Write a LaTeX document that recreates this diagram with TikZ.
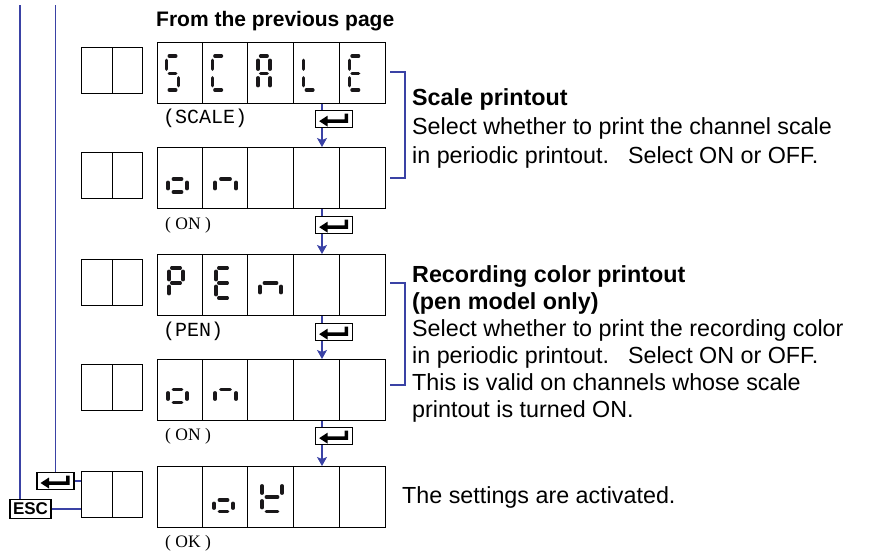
\documentclass[tikz,border=0pt]{standalone}
\usepackage{fontspec}
\setmainfont{Liberation Sans}
\newfontfamily\monofam{Liberation Mono}
\newfontfamily\seriffam{Liberation Serif}
\usetikzlibrary{arrows.meta}
\definecolor{flowblue}{RGB}{58,66,165}
\definecolor{segink}{RGB}{25,23,25}
\tikzset{
  segline/.style={draw=segink, line width=3.4pt, line cap=round},
  boxline/.style={draw=black, line width=1pt},
  dispbox/.style={boxline, minimum width=228.5pt, minimum height=61pt, inner sep=0pt, anchor=north west},
  smallbox/.style={boxline, minimum width=61pt, minimum height=46pt, inner sep=0pt, anchor=north west},
  flowline/.style={draw=flowblue, line width=1.2pt},
  flowarrow/.style={flowline, -{Stealth[length=9pt,width=10pt,inset=2pt]}},
  enterkey/.style={draw=black, line width=1.3pt, fill=white, minimum width=37pt, minimum height=17pt, inner sep=0pt,
    path picture={\fill[black, shift={(path picture bounding box.center)}] (-15,2) -- (-6.5,-3.5) -- (-6.5,0.3) -- (10.5,0.3) -- (10.5,-5.5) -- (14,-5.5) -- (14,3.8) -- (-6.5,3.8) -- (-6.5,7.5) -- cycle;}},
  esckey/.style={draw=black, line width=1.3pt, fill=white, minimum width=41pt, minimum height=18.5pt, inner sep=0pt, font=\fontsize{17}{17}\selectfont\bfseries},
  bodytext/.style={anchor=base west, inner sep=0pt, font=\fontsize{23.3}{28}\selectfont},
  headtext/.style={anchor=base west, inner sep=0pt, font=\fontsize{23.3}{28}\selectfont\bfseries},
  toptext/.style={anchor=base west, inner sep=0pt, font=\fontsize{21}{24}\selectfont\bfseries},
  codelabel/.style={anchor=base west, inner sep=0pt, font=\fontsize{20}{20}\selectfont\monofam},
  serlabel/.style={anchor=base west, inner sep=0pt, font=\fontsize{17.5}{17.5}\selectfont\seriffam},
}
\newcommand{\sevdig}[8]{%
  \coordinate (TL) at (#1,#3); \coordinate (TR) at (#2,#3);
  \coordinate (ML) at (#1,#4); \coordinate (MR) at (#2,#4);
  \coordinate (BL) at (#1,#5); \coordinate (BR) at (#2,#5);
  \def\seghs{#6pt}\def\segvs{#7pt}%
  \foreach \sg in {#8}{\csname sevseg\sg\endcsname}}
\newcommand{\sevsega}{\draw[segline, shorten <=\seghs, shorten >=\seghs] (TL) -- (TR);}
\newcommand{\sevsegb}{\draw[segline, shorten <=\segvs, shorten >=\segvs] (TR) -- (MR);}
\newcommand{\sevsegc}{\draw[segline, shorten <=\segvs, shorten >=\segvs] (MR) -- (BR);}
\newcommand{\sevsegd}{\draw[segline, shorten <=\seghs, shorten >=\seghs] (BL) -- (BR);}
\newcommand{\sevsege}{\draw[segline, shorten <=\segvs, shorten >=\segvs] (ML) -- (BL);}
\newcommand{\sevsegf}{\draw[segline, shorten <=\segvs, shorten >=\segvs] (TL) -- (ML);}
\newcommand{\sevsegg}{\draw[segline, shorten <=\seghs, shorten >=\seghs] (ML) -- (MR);}
\begin{document}
\begin{tikzpicture}[x=1pt, y=-1pt]
\useasboundingbox (0,0) rectangle (872,554);

% displays and small boxes
\foreach \nm/\yy in {d1/42, d2/147, d3/254, d4/359, d5/466} {
  \node[dispbox] (\nm) at (156.5,\yy) {};
  \foreach \k in {1,...,4} \draw[boxline] ({156.5+45.7*\k},\yy) -- ({156.5+45.7*\k},{\yy+61});
  \node[smallbox] (s\nm) at (81,{\yy+5}) {};
  \draw[boxline] (s\nm.north) -- (s\nm.south);
}

% flow arrows between displays
\coordinate (ax) at (322,0);
\foreach \a/\b in {d1/d2, d2/d3, d3/d4, d4/d5} \draw[flowarrow] (\a.south -| ax) -- (\b.north -| ax);
\foreach \i/\yy in {1/110, 2/216, 3/323, 4/427} \node[enterkey, anchor=north west] (ek\i) at (315,\yy) {};

% labels under displays
\node[codelabel] (lab1) at (163,123) {(SCALE)};
\node[serlabel] (lab2) at (165,229) {( ON )};
\node[codelabel] (lab3) at (163,336) {(PEN)};
\node[serlabel] (lab4) at (165,440) {( ON )};
\node[serlabel] (lab5) at (165,547) {( OK )};

% left side keys
\coordinate (top1) at (20,5);
\coordinate (top2) at (55.5,5);
\node[enterkey] (ekL) at (55.5,481) {};
\node[esckey] (esc) at (30.5,509) {ESC};
\draw[flowline] (top1) -- (top1 |- esc.north);
\draw[flowline] (top2) -- (ekL.north);
\draw[flowline] (esc.east) -- (esc.east -| sd5.west);
\draw[flowline] (ekL.east) -- (ekL.east -| sd5.west);

% brackets
\draw[flowline] (390,72) -- (405,72) -- (405,178) -- (390,178);
\draw[flowline] (390,283) -- (405,283) -- (405,385) -- (390,385);

% texts
\node[toptext] (from) at (156,26.7) {From the previous page};
\node[headtext] (t1) at (412,105) {Scale printout};
\node[bodytext] (t2) at (412,134) {Select whether to print the channel scale};
\node[bodytext] (t3) at (412,163) {in periodic printout.\hspace{19pt}Select ON or OFF.};
\node[headtext] (r1) at (412,282.5) {Recording color printout};
\node[headtext] (r2) at (412,309.5) {(pen model only)};
\node[bodytext] (r3) at (412,336.5) {Select whether to print the recording color};
\node[bodytext] (r4) at (412,363.5) {in periodic printout.\hspace{19pt}Select ON or OFF.};
\node[bodytext] (r5) at (412,390.5) {This is valid on channels whose scale};
\node[bodytext] (r6) at (412,417.5) {printout is turned ON.};
\node[bodytext] (ok1) at (402,503) {The settings are activated.};

% seven-segment digits: row 1 SCALE
\sevdig{166.5}{178.5}{56}{73.5}{90}{2.7}{4.3}{a,f,g,c,d}
\sevdig{212.2}{224.2}{56}{73.5}{90}{2.7}{4.3}{a,f,e,d}
\sevdig{257.9}{269.9}{56}{73.5}{90}{2.7}{4.3}{a,b,c,e,f,g}
\sevdig{303.6}{315.6}{56}{73.5}{90}{2.7}{4.3}{f,e,d}
\sevdig{349.3}{361.3}{56}{73.5}{90}{2.7}{4.3}{a,f,g,e,d}
% row 2 on
\sevdig{168}{187}{166}{179}{192}{5.3}{3.3}{g,c,d,e}
\sevdig{215}{236}{166}{179}{192}{5.8}{3.3}{g,c,e}
% row 3 PEn
\sevdig{169}{183}{268}{283}{297}{2.7}{3.3}{a,b,f,g,e}
\sevdig{216}{230}{268}{283}{298}{2.7}{3.3}{a,f,g,e,d}
\sevdig{260}{281}{270}{283}{296}{4.3}{3.3}{g,c,e}
% row 4 on
\sevdig{168}{187}{376.5}{389.5}{402.5}{5.3}{3.3}{g,c,d,e}
\sevdig{215}{236}{376.5}{389.5}{402.5}{5.8}{3.3}{g,c,e}
% row 5 oK
\sevdig{214}{233}{487}{500}{511.5}{5.3}{3.3}{g,c,d,e}
\sevdig{262}{282}{482}{497}{511.5}{4.3}{3.8}{f,b,g,e,d}
\end{tikzpicture}
\end{document}
